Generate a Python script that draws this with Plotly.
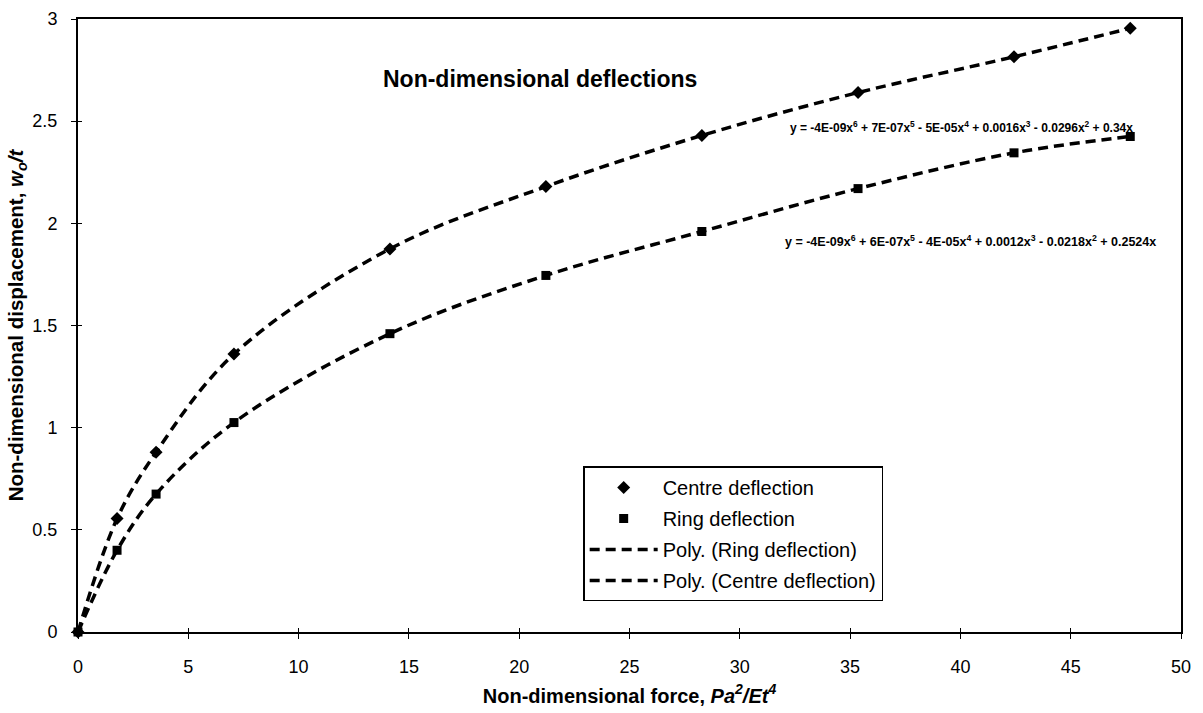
import plotly.graph_objects as go

# Data
force = [0, 1.77, 3.54, 7.07, 14.14, 21.21, 28.28, 35.36, 42.43, 47.7]
centre_defl = [0, 0.555, 0.88, 1.36, 1.875, 2.18, 2.43, 2.64, 2.815, 2.955]
ring_defl = [0, 0.40, 0.675, 1.025, 1.46, 1.745, 1.96, 2.17, 2.345, 2.425]

x_ticks = [0, 5, 10, 15, 20, 25, 30, 35, 40, 45, 50]
y_ticks = [0, 0.5, 1, 1.5, 2, 2.5, 3]

eq_centre = ("y = -4E-09x<sup>6</sup> + 7E-07x<sup>5</sup> - 5E-05x<sup>4</sup> + "
             "0.0016x<sup>3</sup> - 0.0296x<sup>2</sup> + 0.34x")
eq_ring = ("y = -4E-09x<sup>6</sup> + 6E-07x<sup>5</sup> - 4E-05x<sup>4</sup> + "
           "0.0012x<sup>3</sup> - 0.0218x<sup>2</sup> + 0.2524x")

FONT = "Liberation Sans, Arial, sans-serif"
dash = "10px,6px"

fig = go.Figure()
fig.add_trace(go.Scatter(x=force, y=centre_defl, mode="markers", name="Centre deflection",
                         legendgroup="a",
                         marker=dict(symbol="diamond", size=10, color="black"), cliponaxis=False))
fig.add_trace(go.Scatter(x=force, y=ring_defl, mode="markers", name="Ring deflection",
                         legendgroup="b",
                         marker=dict(symbol="square", size=9, color="black"), cliponaxis=False))
fig.add_trace(go.Scatter(x=force, y=ring_defl, mode="lines", name="Poly. (Ring deflection)",
                         legendgroup="c",
                         line=dict(color="black", width=3.5, dash=dash, shape="spline", smoothing=1.0)))
fig.add_trace(go.Scatter(x=force, y=centre_defl, mode="lines", name="Poly. (Centre deflection)",
                         legendgroup="d",
                         line=dict(color="black", width=3.5, dash=dash, shape="spline", smoothing=1.0)))

fig.update_layout(
    width=1203, height=713,
    margin=dict(l=78, r=22, t=19, b=81, autoexpand=False),
    paper_bgcolor="white", plot_bgcolor="white",
    font=dict(family=FONT, size=18, color="black"),
    showlegend=True,
    legend=dict(x=0.458, y=0.27, xanchor="left", yanchor="top",
                bordercolor="black", borderwidth=1.5, bgcolor="white",
                font=dict(size=20, family=FONT), itemwidth=68, tracegroupgap=2),
    xaxis=dict(range=[0, 50], tickvals=x_ticks, showgrid=False, zeroline=False,
               showline=True, linecolor="black", linewidth=2, mirror=True, automargin=False,
               ticks="outside", ticklen=5, tickcolor="black", ticklabelstandoff=12,
               tickfont=dict(size=18, family=FONT),
               title=dict(text="<b>Non-dimensional force, <i>Pa<sup>2</sup>/Et<sup>4</sup></i></b>",
                          font=dict(size=20, family=FONT), standoff=13)),
    yaxis=dict(range=[0, 3], tickvals=y_ticks, showgrid=False, zeroline=False,
               showline=True, linecolor="black", linewidth=2, mirror=True, automargin=False,
               ticks="outside", ticklen=5, tickcolor="black", ticklabelstandoff=10,
               tickfont=dict(size=18, family=FONT),
               title=dict(text="<b>Non-dimensional displacement, <i>w<sub>o</sub>/t</i></b>",
                          font=dict(size=20.5, family=FONT), standoff=3)),
    xaxis2=dict(overlaying="x", matches="x", anchor="y", side="bottom", range=[0, 50],
                tickvals=x_ticks, showticklabels=False, showgrid=False, zeroline=False,
                ticks="inside", ticklen=4, tickcolor="black", showline=False, automargin=False),
    yaxis2=dict(overlaying="y", matches="y", anchor="x", side="left", range=[0, 3],
                tickvals=y_ticks, showticklabels=False, showgrid=False, zeroline=False,
                ticks="inside", ticklen=4, tickcolor="black", showline=False, automargin=False),
    annotations=[
        dict(text="<b>Non-dimensional deflections</b>", x=0.419, y=0.902, xref="paper", yref="paper",
             xanchor="center", yanchor="middle", showarrow=False, font=dict(size=23, family=FONT)),
        dict(text="<b>" + eq_centre + "</b>", x=0.801, y=0.824, xref="paper", yref="paper",
             xanchor="center", yanchor="middle", showarrow=False, font=dict(size=12, family=FONT)),
        dict(text="<b>" + eq_ring + "</b>", x=0.809, y=0.638, xref="paper", yref="paper",
             xanchor="center", yanchor="middle", showarrow=False, font=dict(size=12.5, family=FONT)),
    ],
)

# invisible trace so the overlay axes (inner tick marks) are drawn
fig.add_trace(go.Scatter(x=[None], y=[None], xaxis="x2", yaxis="y2", showlegend=False,
                         hoverinfo="skip"))

fig.write_html("out.html")
